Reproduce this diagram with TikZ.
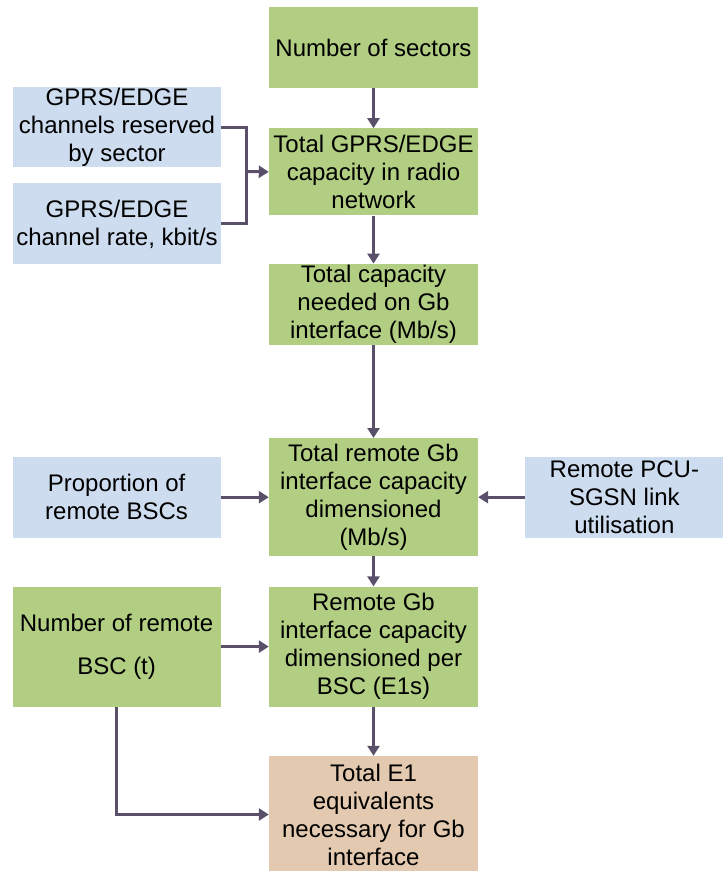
\documentclass[tikz,border=0pt]{standalone}
\usepackage{fontspec}
\setmainfont{Liberation Sans}
\usetikzlibrary{arrows.meta, positioning}
\definecolor{calcgreen}{HTML}{B2CE82}
\definecolor{inputblue}{HTML}{CDDCEE}
\definecolor{resulttan}{HTML}{E3C9AF}
\definecolor{linkgrey}{HTML}{5A5069}
\tikzset{
  box/.style={
    rectangle,
    inner sep=0pt,
    align=center,
    font=\fontsize{24}{28}\selectfont,
  },
  calcbox/.style={
    box,
    fill=calcgreen,
    minimum width=209pt
  },
  inputbox/.style={
    box,
    fill=inputblue,
    minimum width=208pt
  },
  resultbox/.style={
    box,
    fill=resulttan,
    minimum width=209pt
  },
  arrow/.style={
    -{Triangle[length=10pt,width=12pt]},
    line width=3pt,
    draw=linkgrey
  },
  link/.style={
    line width=3pt,
    draw=linkgrey
  }
}
\begin{document}
\begin{tikzpicture}[x=1pt, y=-1pt]
  \useasboundingbox (0,0) rectangle (723,871);

  % centre column
  \node[calcbox, minimum height=81pt] (sectors) at (373.5,47.5) {Number of sectors};
  \node[calcbox, minimum height=87pt, below=40pt of sectors] (radiocap) {Total GPRS/EDGE\\capacity in radio\\network};
  \node[calcbox, minimum height=81pt, below=48pt of radiocap] (gbcap) {Total capacity\\needed on Gb\\interface (Mb/s)};
  \node[calcbox, minimum height=118pt, below=93pt of gbcap] (remotecap) {Total remote Gb\\interface capacity\\dimensioned\\(Mb/s)};
  \node[calcbox, minimum height=120pt, below=30pt of remotecap] (perbsc) {Remote Gb\\interface capacity\\dimensioned per\\BSC (E1s)};
  \node[resultbox, minimum height=117pt, below=49pt of perbsc] (e1total) {Total E1\\equivalents\\necessary for Gb\\interface};

  % inputs
  \node[inputbox, minimum height=80pt] (chres) at (117,127) {GPRS/EDGE\\channels reserved\\by sector};
  \node[inputbox, minimum height=81pt, below=16pt of chres] (chrate) {GPRS/EDGE\\channel rate, kbit/s};
  \node[inputbox, minimum height=81pt, left=48pt of remotecap] (propbsc) {Proportion of\\remote BSCs};
  \node[inputbox, minimum width=198pt, minimum height=81pt, right=47pt of remotecap] (pcuutil) {Remote PCU-\\SGSN link\\utilisation};
  \node[calcbox, minimum width=208pt, minimum height=120pt, left=48pt of perbsc] (numbsc) {Number of remote\\[15pt]BSC (t)};

  \coordinate (join) at (246,171.5);

  \draw[arrow] (sectors) -- (radiocap);
  \draw[arrow] (radiocap) -- (gbcap);
  \draw[arrow] (gbcap) -- (remotecap);
  \draw[arrow] (remotecap) -- (perbsc);
  \draw[arrow] (perbsc) -- (e1total);

  \draw[link] (chres.east) -| (join) |- (chrate.east);
  \draw[arrow] (join) -- (radiocap.west);
  \draw[arrow] (propbsc) -- (remotecap);
  \draw[arrow] (pcuutil) -- (remotecap);
  \draw[arrow] (numbsc) -- (perbsc);
  \draw[arrow] (numbsc.south) |- (e1total.west);
\end{tikzpicture}
\end{document}
